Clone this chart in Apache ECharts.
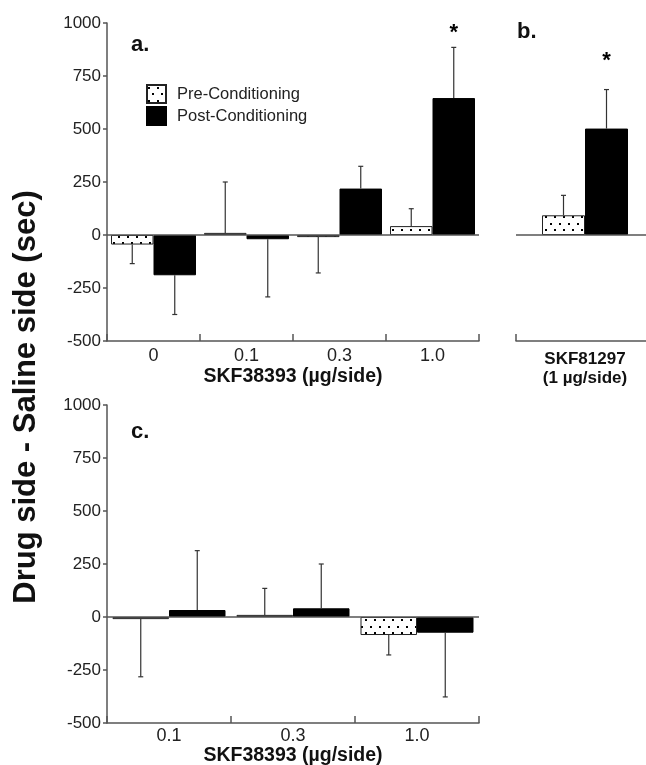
<!DOCTYPE html>
<html lang="en">
<head>
    <meta charset="UTF-8">
    <title>SKF38393 / SKF81297 place conditioning</title>
    <script src="https://cdn.jsdelivr.net/npm/echarts@6/dist/echarts.min.js"></script>
    <style>
        html, body { margin: 0; padding: 0; background: #fff; }
        #myChart { width: 646px; height: 765px; }
    </style>
</head>
<body>
<div id="myChart"></div>
<script type="text/javascript">
    // y scale shared by all panels
    var yMin = -500, yMax = 1000, yStep = 250;

    // panel a: SKF38393 doses
    var catsA = ['0', '0.1', '0.3', '1.0'];
    var preA = [-45, 10, -10, 42];
    var preAErr = [90, 240, 169, 82];
    var postA = [-190, -20, 219, 646];
    var postAErr = [185, 272, 105, 239];
    var starA = [null, null, null, 955];

    // panel b: SKF81297
    var catsB = ['SKF81297\n(1 µg/side)'];
    var preB = [93];
    var preBErr = [94];
    var postB = [502];
    var postBErr = [184];
    var starB = [820];

    // panel c: SKF38393 doses
    var catsC = ['0.1', '0.3', '1.0'];
    var preC = [-10, 10, -85];
    var preCErr = [272, 125, 94];
    var postC = [33, 41, -74];
    var postCErr = [280, 209, 303];

    var FONT = 'Arial, "Liberation Sans", sans-serif';
    var AXIS_COLOR = '#555';

    // dotted fill for pre-conditioning bars
    function dotPattern() {
        var c = document.createElement('canvas');
        c.width = 9;
        c.height = 13;
        var ctx = c.getContext('2d');
        ctx.fillStyle = '#fff';
        ctx.fillRect(0, 0, 9, 13);
        ctx.fillStyle = '#000';
        ctx.fillRect(1, 2, 2, 2);
        ctx.fillRect(5, 8, 2, 2);
        return c;
    }
    var preFill = { image: dotPattern(), repeat: 'repeat' };

    function pairs(vals, errs) {
        return vals.map(function (v, i) { return [i, v, errs[i]]; });
    }

    function starPairs(vals) {
        var out = [];
        for (var i = 0; i < vals.length; i++) {
            if (vals[i] != null) out.push([i, vals[i]]);
        }
        return out;
    }

    // one-sided error bar with a small cap
    function errRender(bw, side) {
        return function (params, api) {
            var c = api.value(0), v = api.value(1), e = api.value(2);
            var tip = v + (v >= 0 ? 1 : -1) * e;
            var p0 = api.coord([c, v]);
            var p1 = api.coord([c, tip]);
            var x = p0[0] + side * bw / 2;
            return {
                type: 'group',
                children: [
                    { type: 'line', shape: { x1: x, y1: p0[1], x2: x, y2: p1[1] }, style: { stroke: '#333', lineWidth: 1.2 } },
                    { type: 'line', shape: { x1: x - 2.5, y1: p1[1], x2: x + 2.5, y2: p1[1] }, style: { stroke: '#333', lineWidth: 1.2 } }
                ]
            };
        };
    }

    function starRender(bw) {
        return function (params, api) {
            var p = api.coord([api.value(0), api.value(1)]);
            return {
                type: 'text',
                x: p[0] + bw / 2,
                y: p[1],
                style: { text: '*', font: 'bold 22px ' + FONT, fill: '#000', align: 'center', verticalAlign: 'middle' }
            };
        };
    }

    function yAxisOf(idx, show) {
        return {
            gridIndex: idx,
            type: 'value',
            min: yMin,
            max: yMax,
            interval: yStep,
            show: show,
            axisLine: { show: true, lineStyle: { color: AXIS_COLOR, width: 1.5 } },
            axisTick: { show: true, length: 4, lineStyle: { color: AXIS_COLOR, width: 1.5 } },
            axisLabel: {
                fontSize: 17, color: '#222', margin: 6, fontFamily: FONT,
                formatter: function (v) { return String(v); }
            },
            splitLine: { show: false }
        };
    }

    function xAxisOf(idx, cats, name, labelMargin, nameGap, labelStyle) {
        var ax = {
            gridIndex: idx,
            type: 'category',
            data: cats,
            axisLine: { show: true, onZero: false, lineStyle: { color: AXIS_COLOR, width: 1.5 } },
            axisTick: { show: true, inside: true, length: 7, lineStyle: { color: AXIS_COLOR, width: 1.5 } },
            axisLabel: Object.assign({ fontSize: 18, color: '#222', margin: labelMargin, fontFamily: FONT }, labelStyle || {}),
            splitLine: { show: false }
        };
        if (name) {
            ax.name = name;
            ax.nameLocation = 'middle';
            ax.nameGap = nameGap;
            ax.nameTextStyle = { fontSize: 19.5, fontWeight: 'bold', color: '#111', fontFamily: FONT };
        }
        return ax;
    }

    var zeroLine = {
        silent: true,
        symbol: 'none',
        label: { show: false },
        lineStyle: { color: AXIS_COLOR, width: 1.5, type: 'solid' },
        data: [{ yAxis: 0 }]
    };

    function panelSeries(idx, pre, preErr, post, postErr, stars, bw) {
        var list = [
            {
                name: 'Pre-Conditioning', type: 'bar', xAxisIndex: idx, yAxisIndex: idx,
                data: pre, barWidth: bw, barGap: '0%',
                itemStyle: { color: preFill, borderColor: '#222', borderWidth: 1 },
                markLine: zeroLine, z: 2
            },
            {
                name: 'Post-Conditioning', type: 'bar', xAxisIndex: idx, yAxisIndex: idx,
                data: post, barWidth: bw, barGap: '0%',
                itemStyle: { color: '#000', borderColor: '#000', borderWidth: 1 }, z: 2
            },
            {
                type: 'custom', xAxisIndex: idx, yAxisIndex: idx, silent: true, z: 3,
                renderItem: errRender(bw, -1), data: pairs(pre, preErr)
            },
            {
                type: 'custom', xAxisIndex: idx, yAxisIndex: idx, silent: true, z: 3,
                renderItem: errRender(bw, 1), data: pairs(post, postErr)
            }
        ];
        if (stars) {
            list.push({
                type: 'custom', xAxisIndex: idx, yAxisIndex: idx, silent: true, z: 3,
                renderItem: starRender(bw), data: starPairs(stars)
            });
        }
        return list;
    }

    var myChart = echarts.init(document.getElementById('myChart'), null, { renderer: 'canvas' });

    var option = {
        animation: false,
        backgroundColor: '#fff',
        textStyle: { fontFamily: FONT },
        title: [
            { text: 'a.', left: 131, top: 34, padding: 0, textStyle: { fontSize: 22, fontWeight: 'bold', color: '#111', fontFamily: FONT } },
            { text: 'b.', left: 517, top: 21, padding: 0, textStyle: { fontSize: 22, fontWeight: 'bold', color: '#111', fontFamily: FONT } },
            { text: 'c.', left: 131, top: 421, padding: 0, textStyle: { fontSize: 22, fontWeight: 'bold', color: '#111', fontFamily: FONT } }
        ],
        legend: {
            left: 146,
            top: 84,
            orient: 'vertical',
            padding: 0,
            itemWidth: 19,
            itemHeight: 18,
            itemGap: 2,
            icon: 'rect',
            selectedMode: false,
            data: ['Pre-Conditioning', 'Post-Conditioning'],
            textStyle: { fontSize: 16.5, color: '#222', fontFamily: FONT, padding: [0, 0, 0, 6] }
        },
        grid: [
            { left: 107, top: 23, width: 372, height: 318, outerBoundsMode: 'none' },
            { left: 516, top: 23, width: 138, height: 318, outerBoundsMode: 'none' },
            { left: 107, top: 405, width: 372, height: 318, outerBoundsMode: 'none' }
        ],
        xAxis: [
            xAxisOf(0, catsA, 'SKF38393 (µg/side)', 6, 26),
            xAxisOf(1, catsB, null, 9, 0, { fontSize: 17, fontWeight: 'bold', color: '#111', lineHeight: 19 }),
            xAxisOf(2, catsC, 'SKF38393 (µg/side)', 4, 21)
        ],
        yAxis: [yAxisOf(0, true), yAxisOf(1, false), yAxisOf(2, true)],
        graphic: [
            {
                type: 'text',
                x: 26,
                y: 397,
                rotation: Math.PI / 2,
                style: {
                    text: 'Drug side - Saline side (sec)',
                    font: 'bold 31px ' + FONT,
                    fill: '#111',
                    align: 'center',
                    verticalAlign: 'middle'
                }
            }
        ],
        series: [].concat(
            panelSeries(0, preA, preAErr, postA, postAErr, starA, 42.5),
            panelSeries(1, preB, preBErr, postB, postBErr, starB, 43),
            panelSeries(2, preC, preCErr, postC, postCErr, null, 56.5)
        )
    };

    myChart.setOption(option);
    window.onresize = function () {
        myChart.resize();
    };
</script>
</body>
</html>
